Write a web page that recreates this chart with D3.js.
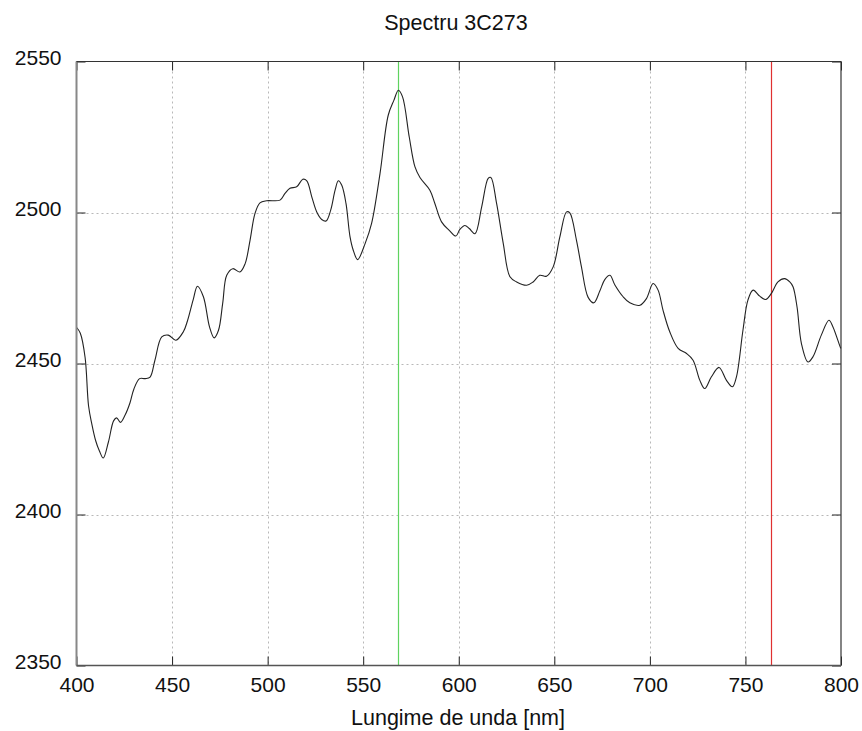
<!DOCTYPE html>
<html>
<head>
<meta charset="utf-8">
<script src="https://cdn.jsdelivr.net/npm/d3@7"></script>
<style>
  html, body { margin: 0; padding: 0; background: #fff; }
  svg { display: block; }
  text { font-family: "Liberation Sans", Arial, sans-serif; fill: #111; }
</style>
</head>
<body>
<svg id="chart" width="862" height="731"></svg>
<script>
// ---- data ----
const wavelengths = [
  400, 402, 404.5, 406.3, 408, 410, 412, 414, 416.7, 419.4, 421, 423, 425.5, 428, 430, 433, 436, 438.5,
  441, 444.6, 448, 452, 455.9, 458, 461, 463.3, 466.4, 469.6, 472, 474.3, 476.5, 478.6, 481.8, 485.5,
  488.2, 490.8, 493.4, 496, 499.5, 506.5, 509.1, 511.7, 515.2, 518.4, 520.5, 523.1, 525.7, 528.3, 530.6,
  533, 535.3, 537, 538.8, 541, 543.1, 544.8, 547.1, 551, 554.4, 558.8, 563.1, 566.1, 568.4, 570.6, 574.1,
  577.1, 579.7, 584.9, 587.5, 591, 595, 598.5, 600.6, 603.2, 605.5, 608.5, 612, 615.4, 616.8, 619.8,
  623.3, 626.8, 630.3, 635.5, 638.9, 642.4, 645.9, 649.4, 652.9, 656.4, 658.1, 661.6, 664.2, 667.7,
  670.7, 673.8, 676.4, 679.1, 681.7, 686, 689.5, 694.8, 698.2, 701.7, 704.3, 706.9, 710.4, 714.8, 719.2,
  722.6, 726.1, 728.7, 732.2, 736.2, 740, 743.2, 745.3, 748.7, 751.3, 754, 757.5, 760.6, 763.6, 767,
  770.5, 773.2, 774.9, 777, 779.3, 782.7, 785.3, 789.7, 793.7, 795.8, 799.7, 800
];
const flux = [
  2462, 2460, 2452, 2436, 2430, 2424.5, 2421, 2418.7, 2424, 2431, 2432, 2430.5, 2433, 2437, 2441.5, 2445, 2445, 2445.5,
  2451, 2458.8, 2459.4, 2457.7, 2460.5, 2464, 2471, 2475.6, 2472.1, 2462.1, 2458.5, 2461, 2470, 2479.2, 2481.4, 2480.3,
  2483, 2490.8, 2499.7, 2503.2, 2503.9, 2504.1, 2506.3, 2508, 2508.5, 2511, 2510.5, 2505.2, 2500.2, 2497.7, 2497.2,
  2500.8, 2507.4, 2510.5, 2509, 2503, 2492, 2487.5, 2484.4, 2489.7, 2496.4, 2512.9, 2532.2, 2537.2, 2540.5, 2538.3, 2525,
  2515.1, 2511.6, 2507.4, 2503, 2496.9, 2494.1, 2492.2, 2494.4, 2495.7, 2494.7, 2493, 2501.9, 2511.3, 2511.6, 2503,
  2489.7, 2478.7, 2477, 2475.9, 2477, 2479.2, 2478.9, 2482, 2491.9, 2500.2, 2499.9, 2490.8, 2482, 2471.9,
  2470.1, 2474, 2477.8, 2479.2, 2476, 2472.1, 2470.1, 2469.3, 2471.5, 2476.5, 2474.3, 2467.6, 2460.5, 2455, 2453.3,
  2451.1, 2444.5, 2441.7, 2445.6, 2448.7, 2444.5, 2442.3, 2445.6, 2461, 2471, 2474.3, 2472.3, 2471.2, 2473.2, 2477,
  2478.1, 2477, 2475.4, 2468.7, 2456.6, 2450.5, 2452.2, 2459.4, 2464.3, 2462.1, 2455.3, 2455
];
const xTicks = [400, 450, 500, 550, 600, 650, 700, 750, 800];
const yTicks = [2350, 2400, 2450, 2500, 2550];
const markerLines = [568.3, 763.6];
const markerColors = ["#5fd35f", "#e03030"];
const titleText = "Spectru 3C273";
const xLabelText = "Lungime de unda [nm]";

// ---- layout ----
const pLeft = 76.5, pRight = 841, pTop = 61.5, pBottom = 665.5;
const svg = d3.select("#chart");
const x = d3.scaleLinear().domain([400, 800]).range([pLeft, pRight]);
const y = d3.scaleLinear().domain([2350, 2550]).range([pBottom, pTop]);

// grid
const grid = svg.append("g").attr("stroke", "#b8b8b8").attr("stroke-width", 1).attr("stroke-dasharray", "2,3");
grid.selectAll("line.gx").data(xTicks.slice(1, -1)).join("line").attr("class", "gx")
  .attr("x1", d => Math.round(x(d)) + 0.5).attr("x2", d => Math.round(x(d)) + 0.5)
  .attr("y1", pTop).attr("y2", pBottom);
grid.selectAll("line.gy").data(yTicks.slice(1, -1)).join("line").attr("class", "gy")
  .attr("y1", d => Math.round(y(d)) + 0.5).attr("y2", d => Math.round(y(d)) + 0.5)
  .attr("x1", pLeft).attr("x2", pRight);

// axes with inward ticks (mirrored)
const tickLen = 9;
const fmt = d3.format("d");
const axB = d3.axisBottom(x).tickValues(xTicks).tickFormat(fmt).tickSizeInner(-tickLen).tickSizeOuter(0);
const axT = d3.axisTop(x).tickValues(xTicks).tickSizeInner(-tickLen).tickSizeOuter(0).tickFormat("");
const axL = d3.axisLeft(y).tickValues(yTicks).tickFormat(fmt).tickSizeInner(-tickLen).tickSizeOuter(0);
const axR = d3.axisRight(y).tickValues(yTicks).tickSizeInner(-tickLen).tickSizeOuter(0).tickFormat("");

function styleAxis(g) {
  g.select(".domain").remove();
  g.selectAll(".tick line").attr("stroke", "#222");
  g.selectAll(".tick text").attr("font-size", 21).attr("font-family", '"Liberation Sans", Arial, sans-serif').attr("fill", "#111");
}
svg.append("g").attr("transform", `translate(0,${pBottom})`).call(axB).call(styleAxis)
  .selectAll(".tick text").attr("dy", "0.35em").attr("y", 19.5);
svg.append("g").attr("transform", `translate(0,${pTop})`).call(axT).call(styleAxis);
svg.append("g").attr("transform", `translate(${pLeft},0)`).call(axL).call(styleAxis)
  .selectAll(".tick text").attr("dy", "0.32em").attr("y", -4).attr("x", -15);
svg.append("g").attr("transform", `translate(${pRight},0)`).call(axR).call(styleAxis);

// marker lines
svg.selectAll("line.marker").data(markerLines).join("line")
  .attr("class", "marker")
  .attr("x1", d => Math.round(x(d)) + 0.5).attr("x2", d => Math.round(x(d)) + 0.5)
  .attr("y1", pTop).attr("y2", pBottom)
  .attr("stroke", (d, i) => markerColors[i]).attr("stroke-width", 1.2);

// spectrum line
const pts = wavelengths.map((w, i) => [w, flux[i]]);
svg.append("path").datum(pts)
  .attr("fill", "none").attr("stroke", "#222").attr("stroke-width", 1.1)
  .attr("d", d3.line().x(d => x(d[0])).y(d => y(d[1])).curve(d3.curveCatmullRom.alpha(0.5)));

// border
svg.append("line").attr("x1", pLeft).attr("x2", pLeft).attr("y1", pTop).attr("y2", pBottom)
  .attr("stroke", "#888").attr("stroke-width", 2);
svg.append("line").attr("x1", pRight).attr("x2", pRight).attr("y1", pTop).attr("y2", pBottom)
  .attr("stroke", "#333").attr("stroke-width", 1.2);
svg.append("line").attr("x1", pLeft).attr("x2", pRight).attr("y1", pTop).attr("y2", pTop)
  .attr("stroke", "#333").attr("stroke-width", 1.2);
svg.append("line").attr("x1", pLeft).attr("x2", pRight).attr("y1", pBottom).attr("y2", pBottom)
  .attr("stroke", "#555").attr("stroke-width", 1.4);

// titles
svg.append("text").attr("x", 456).attr("y", 22).attr("dy", "0.35em")
  .attr("text-anchor", "middle").attr("font-size", 21.5).text(titleText);
svg.append("text").attr("x", 458).attr("y", 717).attr("dy", "0.35em")
  .attr("text-anchor", "middle").attr("font-size", 21.5).text(xLabelText);
</script>
</body>
</html>
